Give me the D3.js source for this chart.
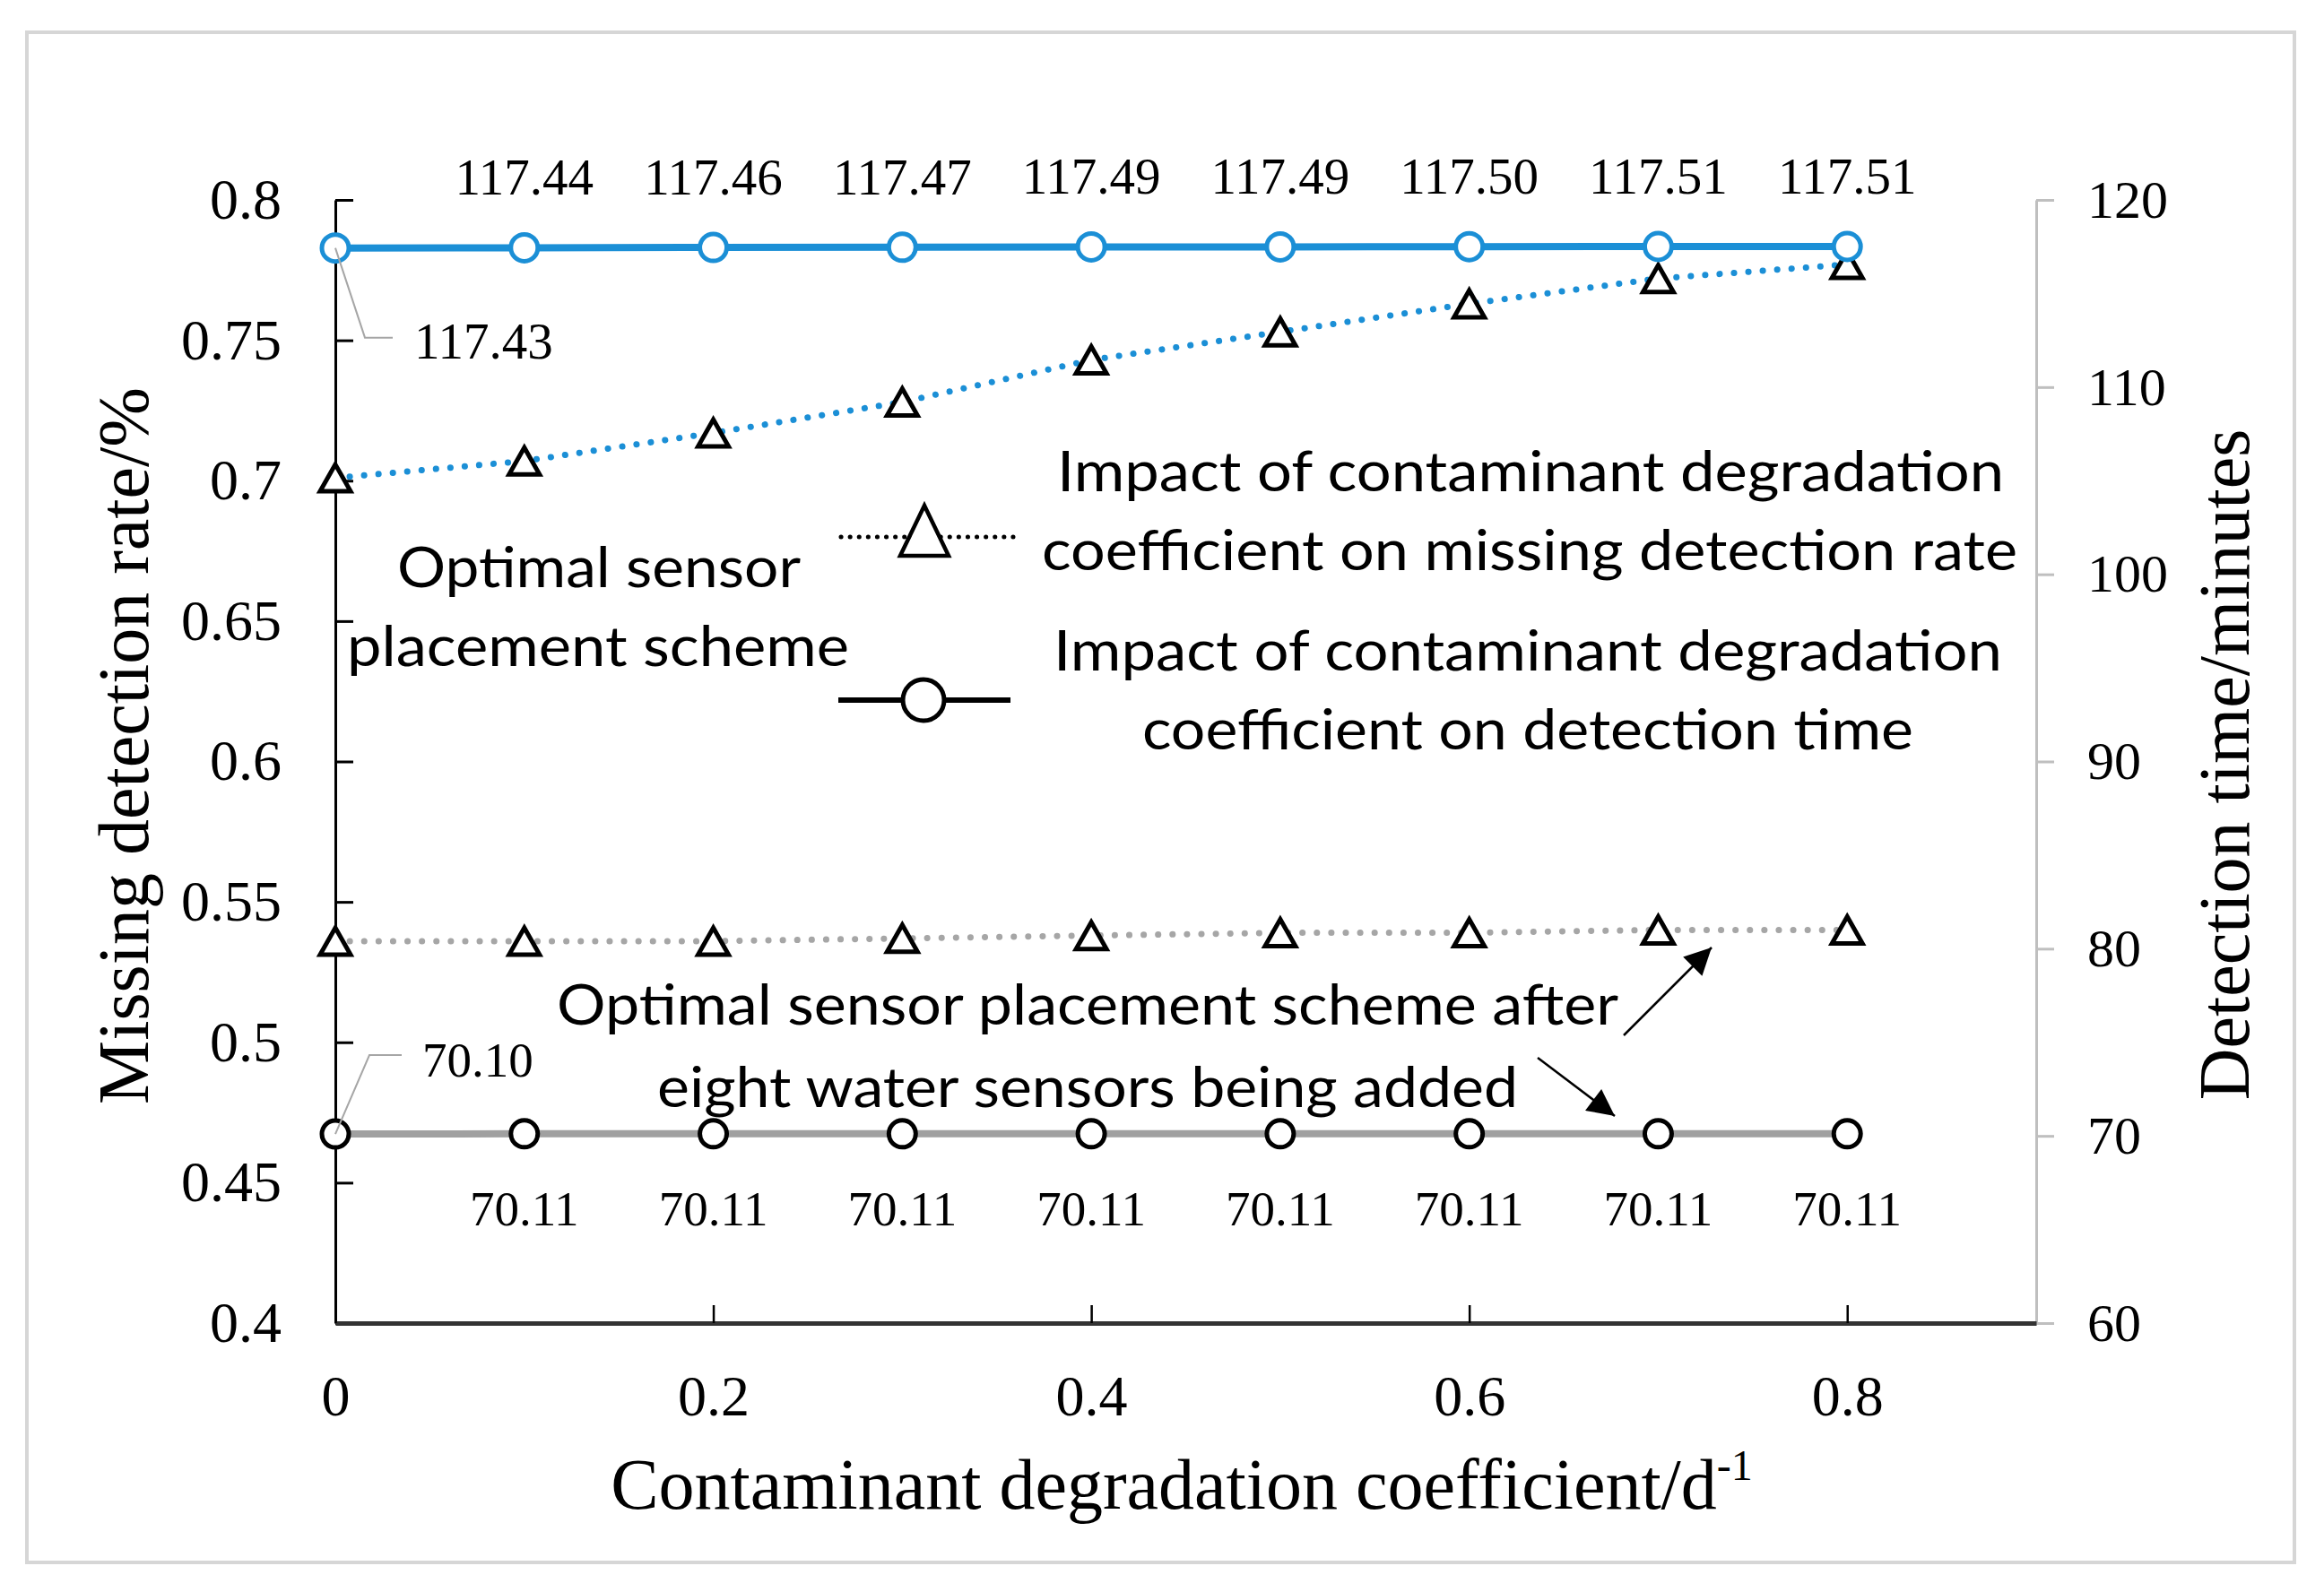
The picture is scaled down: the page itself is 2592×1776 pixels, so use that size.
<!DOCTYPE html>
<html>
<head>
<meta charset="utf-8">
<script src="https://cdn.jsdelivr.net/npm/d3@7"></script>
<style>
  body { margin: 0; background: #fff; }
  svg { display: block; }
</style>
</head>
<body>
<div class="chart"></div>
<script>
// values
var coef = [0, 0.1, 0.2, 0.3, 0.4, 0.5, 0.6, 0.7, 0.8];
var rateBefore = [0.701, 0.707, 0.717, 0.728, 0.743, 0.753, 0.763, 0.772, 0.777];
var rateAfter = [0.536, 0.536, 0.536, 0.537, 0.538, 0.539, 0.539, 0.540, 0.540];
var timeBefore = [117.43, 117.44, 117.46, 117.47, 117.49, 117.49, 117.50, 117.51, 117.51];
var timeAfter = [70.10, 70.11, 70.11, 70.11, 70.11, 70.11, 70.11, 70.11, 70.11];
var timeBeforeLabels = ["117.43", "117.44", "117.46", "117.47", "117.49", "117.49", "117.50", "117.51", "117.51"];
var timeAfterLabels = ["70.10", "70.11", "70.11", "70.11", "70.11", "70.11", "70.11", "70.11", "70.11"];
var xTicks = [0, 0.2, 0.4, 0.6, 0.8];
var leftTicks = [0.4, 0.45, 0.5, 0.55, 0.6, 0.65, 0.7, 0.75, 0.8];
var rightTicks = [60, 70, 80, 90, 100, 110, 120];

var svgWidth = 2592;
var svgHeight = 1776;
var blue = "#1b8fd6";
var serif = "'Liberation Serif', 'Times New Roman', serif";
var sans = "Lato, 'Open Sans', sans-serif";

var svg = d3.select(".chart")
    .append("svg")
    .attr("width", svgWidth)
    .attr("height", svgHeight);

svg.append("rect")
    .attr("x", 30).attr("y", 36)
    .attr("width", 2529).attr("height", 1707)
    .attr("fill", "#fff")
    .attr("stroke", "#d6d6d6")
    .attr("stroke-width", 4);

// scales
var x = d3.scaleLinear().domain([0, 0.9]).range([374, 2271]);
var yL = d3.scaleLinear().domain([0.4, 0.8]).range([1476, 223]);
var yR = d3.scaleLinear().domain([60, 120]).range([1476, 223]);

// axes
var leftAxis = d3.axisLeft(yL).tickValues(leftTicks)
    .tickSizeInner(-20).tickSizeOuter(0).tickPadding(60)
    .tickFormat(function(d) { return String(+d.toFixed(2)); });
var rightAxis = d3.axisRight(yR).tickValues(rightTicks)
    .tickSizeInner(20).tickSizeOuter(0).tickPadding(37);
var bottomAxis = d3.axisBottom(x).tickValues(xTicks)
    .tickSizeInner(-20).tickSizeOuter(0).tickPadding(58)
    .tickFormat(function(d) { return String(d); });

var gL = svg.append("g").attr("transform", "translate(374,0)").call(leftAxis);
gL.select(".domain").attr("stroke", "#000").attr("stroke-width", 3);
gL.selectAll(".tick line").attr("stroke", "#000").attr("stroke-width", 3);
gL.selectAll("text").attr("font-family", serif).attr("font-size", 64).attr("fill", "#000");

var gR = svg.append("g").attr("transform", "translate(2271,0)").call(rightAxis);
gR.select(".domain").attr("stroke", "#bfbfbf").attr("stroke-width", 3);
gR.selectAll(".tick line").attr("stroke", "#bfbfbf").attr("stroke-width", 3);
gR.selectAll("text").attr("font-family", serif).attr("font-size", 60).attr("fill", "#000");

var gB = svg.append("g").attr("transform", "translate(0,1476)").call(bottomAxis);
gB.select(".domain").attr("stroke", "#333").attr("stroke-width", 5);
gB.selectAll(".tick line").attr("stroke", "#000").attr("stroke-width", 2.5);
gB.selectAll("text").attr("font-family", serif).attr("font-size", 64).attr("fill", "#000");

// axis titles
svg.append("text")
    .attr("transform", "translate(165,832) rotate(-90)")
    .attr("text-anchor", "middle")
    .attr("font-family", serif).attr("font-size", 80)
    .text("Missing detection rate/%");

svg.append("text")
    .attr("transform", "translate(2508,853) rotate(-90)")
    .attr("text-anchor", "middle")
    .attr("font-family", serif).attr("font-size", 80)
    .text("Detection time/minutes");

var xTitle = svg.append("text")
    .attr("x", 1318).attr("y", 1683)
    .attr("text-anchor", "middle")
    .attr("font-family", serif).attr("font-size", 80);
xTitle.append("tspan").text("Contaminant degradation coefficient/d");
xTitle.append("tspan").attr("font-size", 48).attr("dy", -32).text("-1");

// lines
var pts = function(ys, scale) {
    return coef.map(function(c, i) { return [x(c), scale(ys[i])]; });
};
var line = d3.line();

svg.append("path").attr("d", line(pts(timeAfter, yR)))
    .attr("fill", "none").attr("stroke", "#a0a0a0").attr("stroke-width", 8);
svg.append("path").attr("d", line(pts(rateAfter, yL)))
    .attr("fill", "none").attr("stroke", "#a6a6a6").attr("stroke-width", 7)
    .attr("stroke-linecap", "round").attr("stroke-dasharray", "0.1 16");
svg.append("path").attr("d", line(pts(rateBefore, yL)))
    .attr("fill", "none").attr("stroke", blue).attr("stroke-width", 7)
    .attr("stroke-linecap", "round").attr("stroke-dasharray", "0.1 16");
svg.append("path").attr("d", line(pts(timeBefore, yR)))
    .attr("fill", "none").attr("stroke", blue).attr("stroke-width", 8);

// markers
var tri = "M0,-15L17,15L-17,15Z";
[rateBefore, rateAfter].forEach(function(ys) {
    svg.append("g").selectAll("path")
        .data(ys)
        .enter()
        .append("path")
        .attr("d", tri)
        .attr("transform", function(d, i) { return "translate(" + x(coef[i]) + "," + yL(d) + ")"; })
        .attr("fill", "#fff").attr("stroke", "#000").attr("stroke-width", 5)
        .attr("stroke-linejoin", "miter");
});

svg.append("g").selectAll("circle")
    .data(timeAfter)
    .enter()
    .append("circle")
    .attr("cx", function(d, i) { return x(coef[i]); })
    .attr("cy", function(d) { return yR(d); })
    .attr("r", 15)
    .attr("fill", "#fff").attr("stroke", "#000").attr("stroke-width", 5);

svg.append("g").selectAll("circle")
    .data(timeBefore)
    .enter()
    .append("circle")
    .attr("cx", function(d, i) { return x(coef[i]); })
    .attr("cy", function(d) { return yR(d); })
    .attr("r", 15)
    .attr("fill", "#fff").attr("stroke", blue).attr("stroke-width", 5);

// data labels
svg.append("g").selectAll("text")
    .data(timeBeforeLabels.slice(1))
    .enter()
    .append("text")
    .attr("x", function(d, i) { return x(coef[i + 1]); })
    .attr("y", function(d, i) { return yR(timeBefore[i + 1]) - 59; })
    .attr("text-anchor", "middle")
    .attr("font-family", serif).attr("font-size", 57)
    .text(function(d) { return d; });

svg.append("g").selectAll("text")
    .data(timeAfterLabels.slice(1))
    .enter()
    .append("text")
    .attr("x", function(d, i) { return x(coef[i + 1]); })
    .attr("y", function(d, i) { return yR(timeAfter[i + 1]) + 102; })
    .attr("text-anchor", "middle")
    .attr("font-family", serif).attr("font-size", 55)
    .text(function(d) { return d; });

// first-point labels with leader lines
var x0 = x(coef[0]);
var yb0 = yR(timeBefore[0]);
var ya0 = yR(timeAfter[0]);
svg.append("path")
    .attr("d", "M" + x0 + "," + yb0 + "L" + (x0 + 33) + "," + (yb0 + 100) + "L" + (x0 + 64) + "," + (yb0 + 100))
    .attr("fill", "none").attr("stroke", "#a6a6a6").attr("stroke-width", 2);
svg.append("text")
    .attr("x", x0 + 88).attr("y", yb0 + 123)
    .attr("font-family", serif).attr("font-size", 57)
    .text(timeBeforeLabels[0]);

svg.append("path")
    .attr("d", "M" + x0 + "," + ya0 + "L" + (x0 + 38) + "," + (ya0 - 88) + "L" + (x0 + 74) + "," + (ya0 - 88))
    .attr("fill", "none").attr("stroke", "#a6a6a6").attr("stroke-width", 2);
svg.append("text")
    .attr("x", x0 + 97).attr("y", ya0 - 64)
    .attr("font-family", serif).attr("font-size", 55)
    .text(timeAfterLabels[0]);

// legend
var legend = svg.append("g");
legend.append("line")
    .attr("x1", 938).attr("x2", 1133).attr("y1", 599).attr("y2", 599)
    .attr("stroke", "#000").attr("stroke-width", 5)
    .attr("stroke-linecap", "round").attr("stroke-dasharray", "0.1 10");
legend.append("path")
    .attr("d", "M0,-28L27,28L-27,28Z")
    .attr("transform", "translate(1031,592)")
    .attr("fill", "#fff").attr("stroke", "#000").attr("stroke-width", 4.5);
legend.append("line")
    .attr("x1", 935).attr("x2", 1127).attr("y1", 781).attr("y2", 781)
    .attr("stroke", "#000").attr("stroke-width", 6);
legend.append("circle")
    .attr("cx", 1030).attr("cy", 781).attr("r", 23)
    .attr("fill", "#fff").attr("stroke", "#000").attr("stroke-width", 5);

var notes = [
    {t: "Impact of contaminant degradation", x: 1707, y: 548, w: 1056},
    {t: "coefficient on missing detection rate", x: 1706, y: 636, w: 1088},
    {t: "Impact of contaminant degradation", x: 1704, y: 748, w: 1058},
    {t: "coefficient on detection time", x: 1704, y: 836, w: 860},
    {t: "Optimal sensor", x: 668, y: 655, w: 450},
    {t: "placement scheme", x: 667, y: 743, w: 560},
    {t: "Optimal sensor placement scheme after", x: 1213, y: 1143, w: 1184},
    {t: "eight water sensors being added", x: 1213, y: 1235, w: 960}
];
svg.append("g").selectAll("text")
    .data(notes)
    .enter()
    .append("text")
    .attr("x", function(d) { return d.x; })
    .attr("y", function(d) { return d.y; })
    .attr("text-anchor", "middle")
    .attr("font-family", sans).attr("font-size", 62)
    .attr("textLength", function(d) { return d.w; })
    .attr("lengthAdjust", "spacingAndGlyphs")
    .text(function(d) { return d.t; });

// arrows
svg.append("defs").append("marker")
    .attr("id", "head")
    .attr("viewBox", "0 0 10 10")
    .attr("refX", 10).attr("refY", 5)
    .attr("markerWidth", 40).attr("markerHeight", 30)
    .attr("markerUnits", "userSpaceOnUse")
    .attr("orient", "auto")
    .append("path").attr("d", "M0,0L10,5L0,10Z").attr("fill", "#000");

svg.append("line")
    .attr("x1", 1811).attr("y1", 1155).attr("x2", 1909).attr("y2", 1057)
    .attr("stroke", "#000").attr("stroke-width", 2.5).attr("marker-end", "url(#head)");
svg.append("line")
    .attr("x1", 1715).attr("y1", 1180).attr("x2", 1801).attr("y2", 1245)
    .attr("stroke", "#000").attr("stroke-width", 2.5).attr("marker-end", "url(#head)");
</script>
</body>
</html>
